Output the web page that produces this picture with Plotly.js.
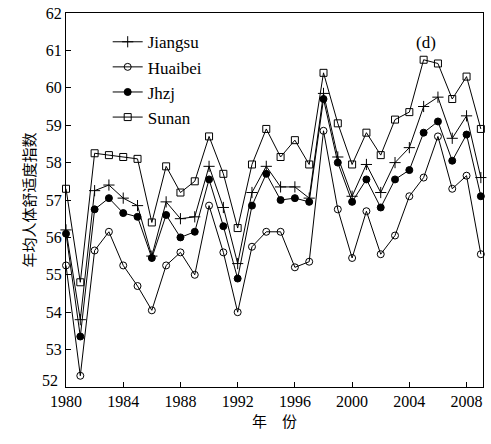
<!DOCTYPE html>
<html><head><meta charset="utf-8">
<script src="https://cdn.plot.ly/plotly-3.0.1.min.js"></script>
<style>body{margin:0;background:#fff}#c{width:491px;height:444px}</style>
</head><body><div id="c"></div>
<script>
const years = [];
for (let y = 1980; y <= 2009; y++) years.push(y);
const jiangsu = [56.2,53.8,57.25,57.4,57.05,56.85,55.5,56.95,56.5,56.55,57.9,56.8,55.3,57.2,57.9,57.35,57.35,57.05,59.85,58.15,57.1,57.95,57.2,58.0,58.4,59.5,59.75,58.65,59.25,57.6];
const huaibei = [55.25,52.3,55.65,56.15,55.25,54.7,54.05,55.25,55.6,55.0,56.85,55.6,54.0,55.75,56.15,56.15,55.2,55.35,58.85,56.75,55.45,56.7,55.55,56.05,57.1,57.6,58.7,57.3,57.65,55.55];
const jhzj = [56.1,53.35,56.75,57.05,56.65,56.55,55.45,56.6,56.0,56.15,57.55,56.3,54.9,56.85,57.7,57.0,57.05,56.95,59.7,58.0,56.95,57.55,56.8,57.55,57.8,58.8,59.1,58.05,58.75,57.1];
const sunan = [57.3,54.8,58.25,58.2,58.15,58.1,56.4,57.9,57.2,57.5,58.7,57.7,56.25,57.95,58.9,58.15,58.6,57.95,60.4,59.05,57.95,58.8,58.2,59.15,59.35,60.75,60.65,59.7,60.3,58.9];
const xTicks = [1980,1984,1988,1992,1996,2000,2004,2008];
const yTicks = [52,53,54,55,56,57,58,59,60,61,62];

const serif = 'Times New Roman, Liberation Serif, DejaVu Serif, serif';
const line = {color:'#000', width:1};
function tr(name, y, marker){
  return {x: years, y: y, name: name, type:'scatter', mode:'lines+markers', line: line, marker: marker, cliponaxis:false};
}
const data = [
  tr('Jiangsu', jiangsu, {symbol:'cross-thin', size:8, color:'#000', line:{color:'#000', width:1}}),
  tr('Huaibei', huaibei, {symbol:'circle-open', size:7, color:'#000', line:{color:'#000', width:1}}),
  tr('Jhzj', jhzj, {symbol:'circle', size:7, color:'#000', line:{color:'#000', width:1}}),
  tr('Sunan', sunan, {symbol:'square-open', size:7, color:'#000', line:{color:'#000', width:1}})
];
const layout = {
  width:491, height:444,
  margin:{l:66, r:8, t:13, b:57},
  paper_bgcolor:'#fff', plot_bgcolor:'#fff',
  font:{family:serif, size:15, color:'#000'},
  showlegend:true,
  legend:{x:0.1, y:0.97, xanchor:'left', yanchor:'top', bgcolor:'rgba(0,0,0,0)', font:{family:serif, size:17}, tracegroupgap:0, itemwidth:30},
  xaxis:{range:[1980, 2009.15], tickvals:xTicks, ticktext:xTicks.map(String), ticks:'inside', ticklen:5, tickcolor:'#000',
    showline:true, linecolor:'#000', linewidth:1, mirror:true, showgrid:false, zeroline:false,
    tickfont:{family:serif, size:16},
    title:{text:'年　份', font:{family:'Noto Sans CJK SC', size:15}, standoff:6}},
  yaxis:{range:[52, 62], tickvals:yTicks, ticktext:yTicks.map(v => v === 52 ? '' : String(v)), ticks:'inside', ticklen:5, tickcolor:'#000',
    showline:true, linecolor:'#000', linewidth:1, mirror:true, showgrid:false, zeroline:false,
    tickfont:{family:serif, size:16},
    title:{text:'年均人体舒适度指数', font:{family:'Noto Sans CJK SC', size:15}, standoff:6}},
  annotations:[
    {x:2005.2, y:61.2, xref:'x', yref:'y', text:'(d)', showarrow:false, font:{family:serif, size:17}},
    {x:0, y:52, xref:'paper', yref:'y', text:String(yTicks[0]), showarrow:false, xanchor:'right', xshift:-6, yshift:7, font:{family:serif, size:16}}
  ]
};
Plotly.newPlot('c', data, layout, {displayModeBar:false, staticPlot:true});
</script></body></html>
